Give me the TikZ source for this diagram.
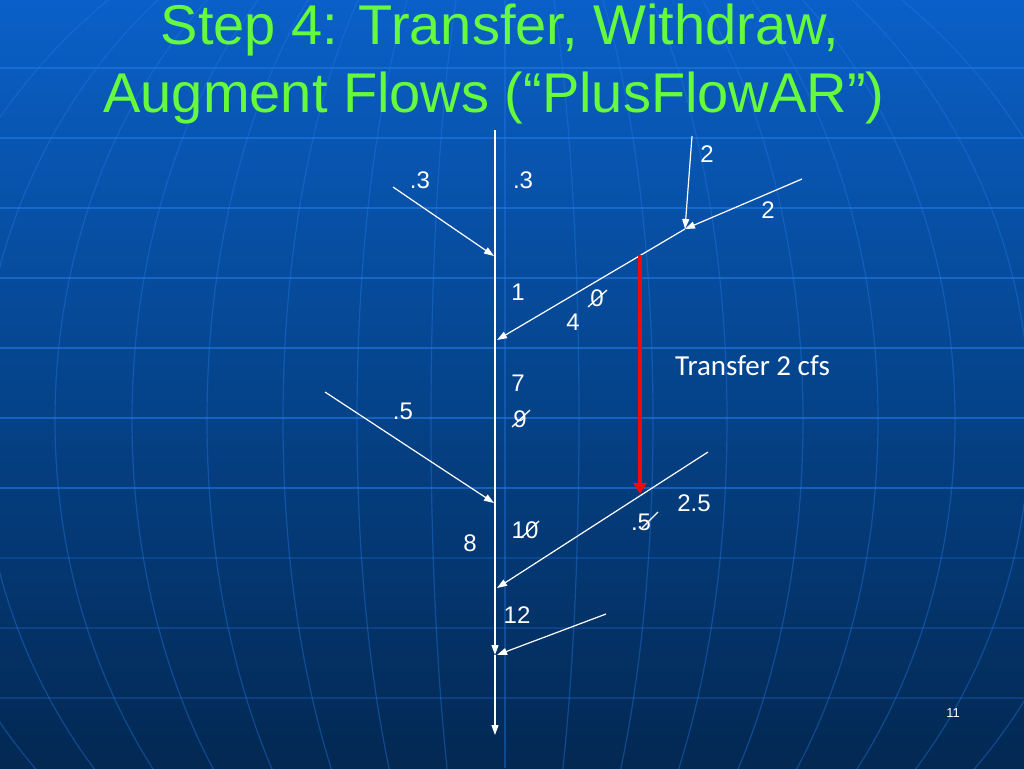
\documentclass[tikz,border=0pt]{standalone}
\usepackage{fontspec}
\setmainfont{Liberation Sans}
\newfontfamily\calfont{Carlito}
\usetikzlibrary{arrows.meta}
\definecolor{bgtop}{RGB}{10,96,200}
\definecolor{bgmid}{RGB}{5,68,140}
\definecolor{bgbot}{RGB}{3,40,82}
\definecolor{gridc}{RGB}{35,120,230}
\definecolor{titlegreen}{RGB}{102,250,60}
\definecolor{redarrow}{RGB}{240,10,10}
\tikzset{
  flow/.style={draw=white, line width=1.2pt, -{Triangle[length=10pt,width=7pt]}},
  transfer/.style={draw=redarrow, line width=4pt, -{Triangle[length=11pt,width=13pt]}},
  num/.style={text=white, font=\fontsize{24}{28}\selectfont, inner sep=0pt},
  slash/.style={draw=white, line width=1.3pt},
  title/.style={text=titlegreen, font=\fontsize{56}{64}\selectfont, inner sep=0pt, anchor=base},
  gridline/.style={draw=gridc, line width=1.5pt, opacity=0.6},
  faintgrid/.style={draw=gridc, line width=1.1pt, opacity=0.25},
  meridian/.style={draw=gridc, line width=1.2pt, opacity=0.4}
}
\begin{document}
\begin{tikzpicture}[x=1pt,y=-1pt]
\useasboundingbox (0,0) rectangle (1024,768);
% background
\shade[top color=bgtop, bottom color=bgbot, middle color=bgmid] (0,0) rectangle (1024,768);
\begin{scope}
\clip (0,0) rectangle (1024,768);
\foreach \yy in {68,138,208,278,348,418,488}
  \draw[gridline] (0,\yy) -- (1024,\yy);
\foreach \yy in {558,628,698}
  \draw[faintgrid] (0,\yy) -- (1024,\yy);
\foreach \aa in {74,148,222,298,373,450,525,600}
  \draw[meridian] (505,420) ellipse [x radius=\aa, y radius=560];
\draw[meridian] (505,0) -- (505,768);
\end{scope}
% title
\node[title] (t1) at (500,45) {Step 4: Transfer, Withdraw,};
\node[title] (t2) at (494,112) {Augment Flows (“PlusFlowAR”)};
% stem coordinates
\coordinate (s0) at (495,130);
\coordinate (j1) at (494,256);
\coordinate (j2) at (497,340);
\coordinate (j3) at (494,503);
\coordinate (j4) at (497,588);
\coordinate (j5) at (495,655);
\coordinate (j5b) at (497,655);
\coordinate (send) at (495,735);
% tributary sources
\coordinate (a0) at (393,187);
\coordinate (b0) at (802,179);
\coordinate (bj) at (685,229);
\coordinate (c0) at (692,136);
\coordinate (d0) at (325,392);
\coordinate (e0) at (708,452);
\coordinate (f0) at (606,614);
\coordinate (r0) at (640,255);
\coordinate (r1) at (640,494);
% stem
\draw[flow] (s0) -- (j5);
\draw[flow] (j5) -- (send);
% tributaries
\draw[flow] (a0) -- (j1);
\draw[flow] (b0) -- (bj);
\draw[flow] (c0) -- (bj);
\draw[flow] (bj) -- (j2);
\draw[flow] (d0) -- (j3);
\draw[flow] (e0) -- (j4);
\draw[flow] (f0) -- (j5b);
% transfer
\draw[transfer] (r0) -- (r1);
\node[text=white, font=\calfont\fontsize{29}{34}\selectfont, anchor=base west, inner sep=0pt] (tr) at (675,375) {Transfer 2 cfs};
% labels
\node[num] (l1) at (420,180) {.3};
\node[num] (l2) at (523,180) {.3};
\node[num] (l3) at (707,154) {2};
\node[num] (l4) at (768,210) {2};
\node[num] (l5) at (518,292) {1};
\node[num] (l6) at (597,298) {0};
\draw[slash] (588,307) -- (607,290);
\node[num] (l7) at (573,322) {4};
\node[num] (l8) at (518,383) {7};
\node[num] (l9) at (403,411) {.5};
\node[num] (l10) at (520,419) {9};
\draw[slash] (512,427) -- (530,410);
\node[num] (l11) at (694,503) {2.5};
\node[num] (l12) at (641,522) {.5};
\draw[slash] (642,528) -- (658,512);
\node[num] (l13) at (525,530) {10};
\draw[slash] (521,538) -- (539,521);
\node[num] (l14) at (470,543) {8};
\node[num] (l15) at (517,615) {12};
\node[text=white, font=\fontsize{13}{15}\selectfont, inner sep=0pt] (pg) at (953,713) {11};
\end{tikzpicture}
\end{document}
